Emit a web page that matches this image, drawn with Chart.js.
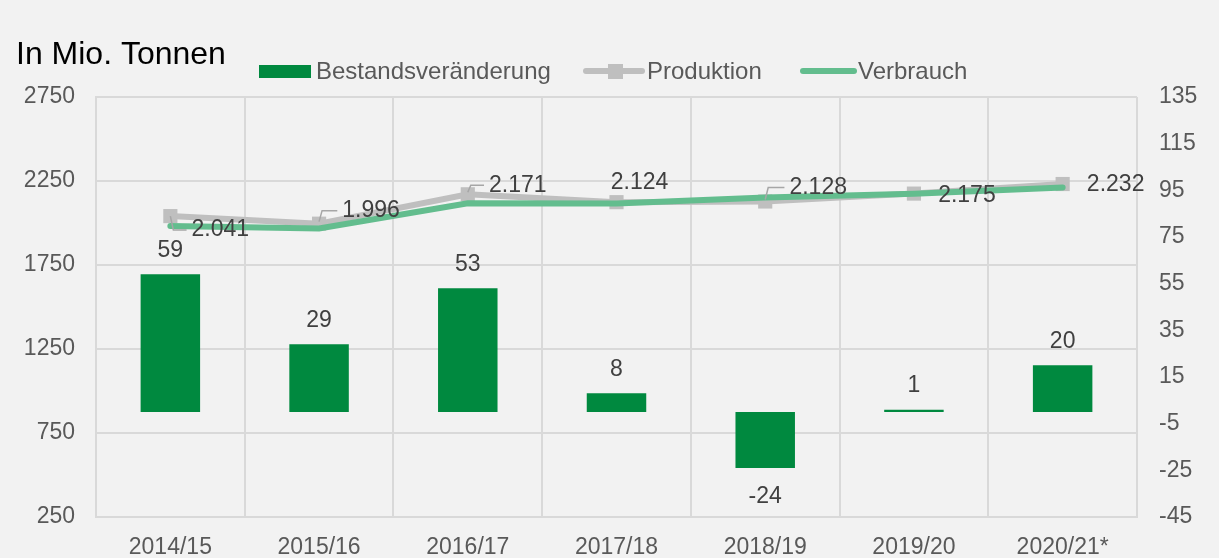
<!DOCTYPE html>
<html>
<head>
<meta charset="utf-8">
<script src="https://cdn.jsdelivr.net/npm/chart.js@4.4.0/dist/chart.umd.min.js"></script>
<style>
  html, body { margin: 0; padding: 0; background: #f2f2f2; }
  #wrap { width: 1219px; height: 558px; }
</style>
</head>
<body>
<div id="wrap"><canvas id="chart" width="1219" height="558"></canvas></div>
<script>
const categories = ['2014/15', '2015/16', '2016/17', '2017/18', '2018/19', '2019/20', '2020/21*'];
const bestand = [59, 29, 53, 8, -24, 1, 20];
const produktion = [2041, 1996, 2171, 2124, 2128, 2175, 2232];
const verbrauch = [1982, 1967, 2118, 2116, 2152, 2174, 2212];
const leftTicks = [250, 750, 1250, 1750, 2250, 2750];
const rightTicks = [-45, -25, -5, 15, 35, 55, 75, 95, 115, 135];

const FONT = '"Liberation Sans", Arial, sans-serif';
const GREEN = '#00893f';
const GRAY = '#bfbfbf';
const LIGHTGREEN = '#63bd8e';
const TEXT = '#595959';
const LABEL = '#404040';

// label offsets for the Produktion values (dx, dy from point to label centre)
const prodOffsets = [[50, 14], [52, -13], [50, -9], [23, -20], [53, -14], [53, 2], [53, 1]];
const prodLeader = [true, true, true, false, true, false, false];

function fmt(v) {
  const s = String(Math.abs(v));
  return (v < 0 ? '-' : '') + s.replace(/\B(?=(\d{3})+(?!\d))/g, '.');
}

const decor = {
  id: 'decor',
  afterDatasetsDraw(chart) {
    const ctx = chart.ctx;
    ctx.save();
    ctx.font = '23px ' + FONT;
    ctx.fillStyle = LABEL;
    ctx.textAlign = 'center';
    ctx.textBaseline = 'middle';

    // bar labels
    chart.getDatasetMeta(0).data.forEach((bar, i) => {
      const v = bestand[i];
      if (v >= 0) ctx.fillText(fmt(v), bar.x, bar.y - 24);
      else ctx.fillText(fmt(v), bar.x, bar.y + 29);
    });

    // Produktion labels
    chart.getDatasetMeta(1).data.forEach((pt, i) => {
      const [dx, dy] = prodOffsets[i];
      const txt = fmt(produktion[i]);
      const lx = pt.x + dx, ly = pt.y + dy;
      const w = ctx.measureText(txt).width;
      if (prodLeader[i]) {
        ctx.strokeStyle = '#a6a6a6';
        ctx.lineWidth = 1.5;
        ctx.beginPath();
        ctx.moveTo(pt.x, pt.y + (dy > 0 ? 0 : -2));
        ctx.lineTo(pt.x + 3, ly);
        ctx.lineTo(lx - w / 2 - 5, ly);
        ctx.stroke();
      }
      ctx.fillText(txt, lx, ly);
    });

    // title
    ctx.textAlign = 'left';
    ctx.fillStyle = '#000000';
    ctx.font = '32px ' + FONT;
    ctx.fillText('In Mio. Tonnen', 16, 55);

    // legend
    ctx.font = '24px ' + FONT;
    ctx.fillStyle = GREEN;
    ctx.fillRect(259, 65, 52, 13);
    ctx.fillStyle = TEXT;
    ctx.fillText('Bestandsveränderung', 316, 72);

    ctx.lineCap = 'round';
    ctx.strokeStyle = GRAY;
    ctx.lineWidth = 6;
    ctx.beginPath();
    ctx.moveTo(586, 71);
    ctx.lineTo(642, 71);
    ctx.stroke();
    ctx.fillStyle = GRAY;
    ctx.fillRect(608, 64, 15, 15);
    ctx.fillStyle = TEXT;
    ctx.fillText('Produktion', 647, 72);

    ctx.strokeStyle = LIGHTGREEN;
    ctx.beginPath();
    ctx.moveTo(803, 71);
    ctx.lineTo(854, 71);
    ctx.stroke();
    ctx.fillText('Verbrauch', 858, 72);
    ctx.restore();
  }
};

new Chart(document.getElementById('chart'), {
  data: {
    labels: categories,
    datasets: [
      {
        type: 'bar',
        label: 'Bestandsveränderung',
        data: bestand,
        yAxisID: 'y1',
        backgroundColor: GREEN,
        barPercentage: 0.8,
        categoryPercentage: 0.5,
        order: 2
      },
      {
        type: 'line',
        label: 'Produktion',
        data: produktion,
        yAxisID: 'y',
        borderColor: GRAY,
        backgroundColor: GRAY,
        borderWidth: 6,
        pointStyle: 'rect',
        pointRadius: 10,
        pointBorderWidth: 0,
        tension: 0,
        order: 1
      },
      {
        type: 'line',
        label: 'Verbrauch',
        data: verbrauch,
        yAxisID: 'y',
        borderColor: LIGHTGREEN,
        backgroundColor: LIGHTGREEN,
        borderWidth: 6,
        borderCapStyle: 'round',
        pointRadius: 0,
        tension: 0,
        order: 0
      }
    ]
  },
  options: {
    responsive: false,
    animation: false,
    layout: { padding: { top: 97, left: 0, right: 0, bottom: 0 } },
    plugins: {
      legend: { display: false },
      tooltip: { enabled: false }
    },
    scales: {
      x: {
        offset: true,
        grid: { offset: true, color: '#d9d9d9', lineWidth: 2, drawTicks: false },
        border: { color: '#d9d9d9', width: 2 },
        ticks: { color: TEXT, font: { family: FONT, size: 23 }, padding: 17, maxRotation: 0 },
        afterFit(scale) { scale.height = 41; }
      },
      y: {
        position: 'left',
        min: 250,
        max: 2750,
        afterBuildTicks(scale) { scale.ticks = leftTicks.map(v => ({ value: v })); },
        grid: { color: '#d9d9d9', lineWidth: 2, drawTicks: false },
        border: { color: '#d9d9d9', width: 2 },
        ticks: { color: TEXT, font: { family: FONT, size: 23 }, padding: 21, callback: v => String(v) },
        afterFit(scale) { scale.width = 96; }
      },
      y1: {
        position: 'right',
        min: -45,
        max: 135,
        afterBuildTicks(scale) { scale.ticks = rightTicks.map(v => ({ value: v })); },
        grid: { display: false, drawTicks: false },
        border: { display: false },
        ticks: { color: TEXT, font: { family: FONT, size: 23 }, padding: 22, callback: v => String(v) },
        afterFit(scale) { scale.width = 82; }
      }
    }
  },
  plugins: [decor]
});
</script>
</body>
</html>
